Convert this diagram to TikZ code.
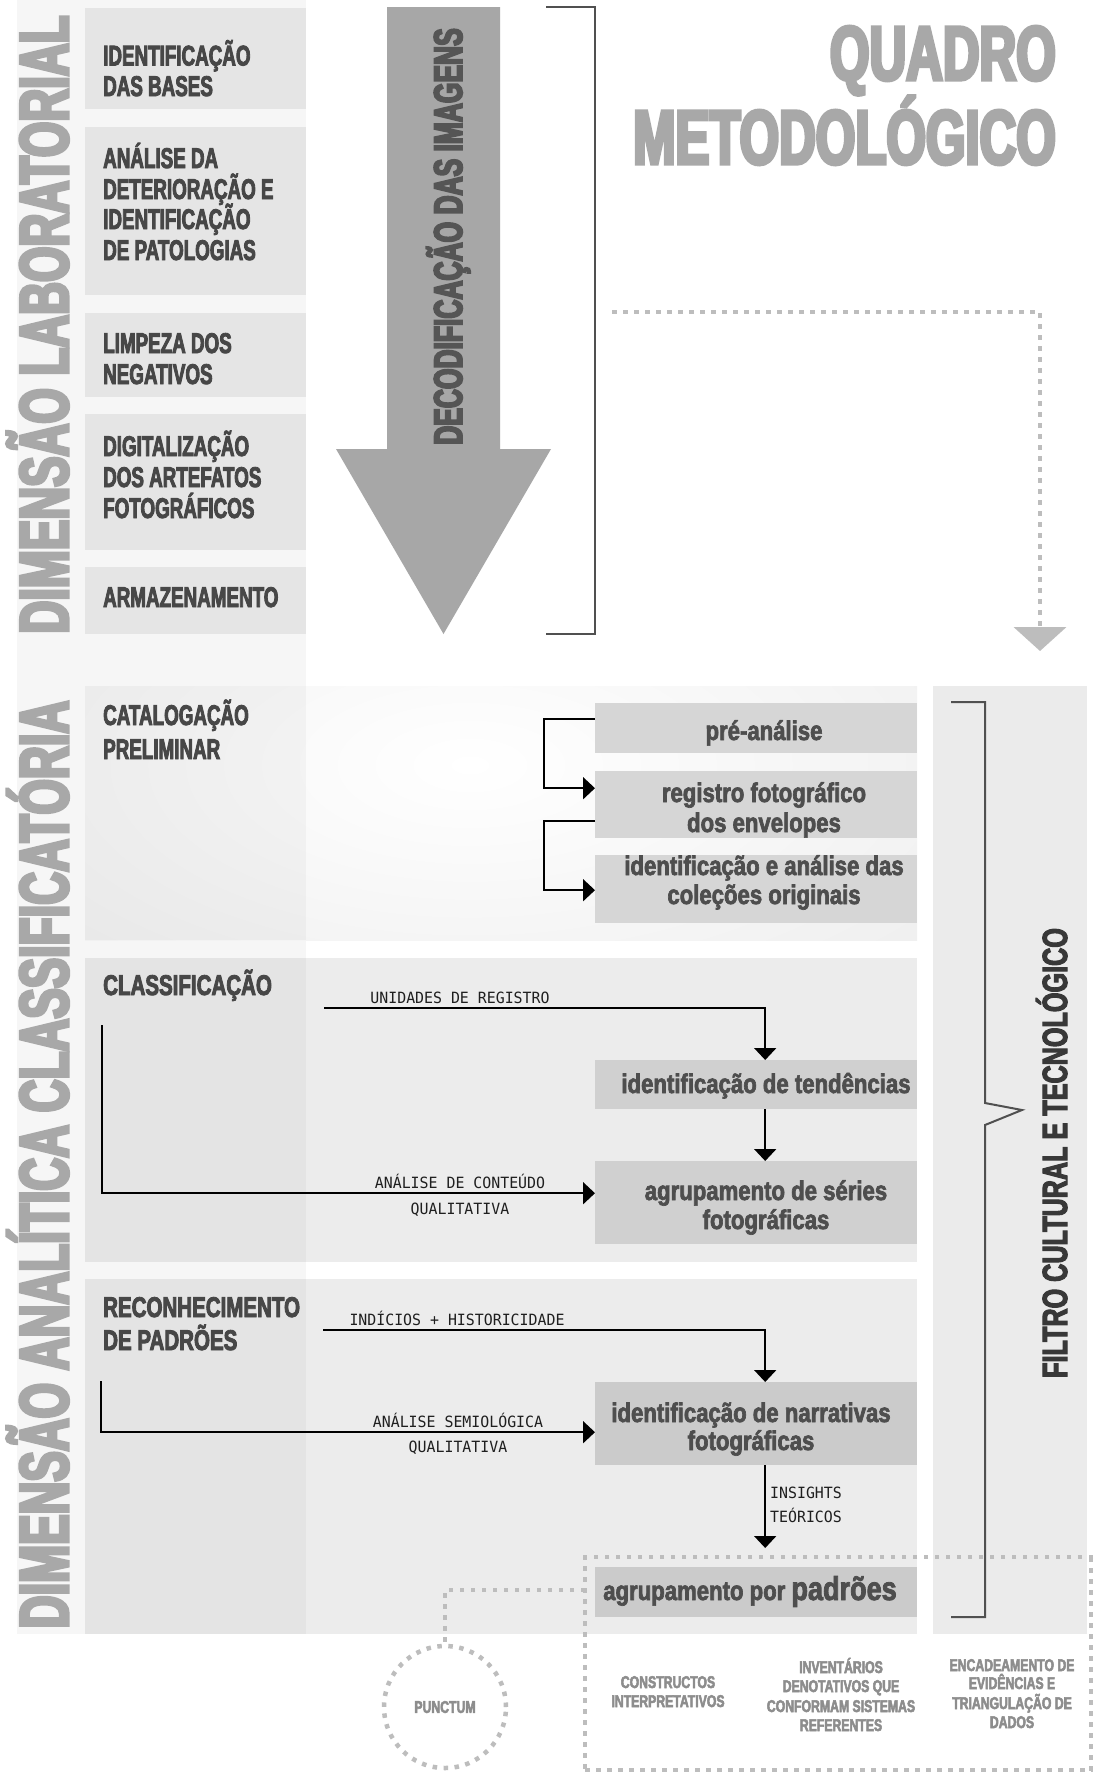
\documentclass[tikz,border=0pt]{standalone}
\usepackage{fontspec}
\setmainfont{Liberation Sans}
\newfontfamily\hvBig{Liberation Sans Bold}[FakeStretch=0.66, FakeBold=4.5]
\newfontfamily\hvA{Liberation Sans Bold}[FakeStretch=0.66, FakeBold=3]
\newfontfamily\hvB{Liberation Sans Bold}[FakeStretch=0.72, FakeBold=3]
\newfontfamily\hvC{Liberation Sans Bold}[FakeStretch=0.82, FakeBold=2.5]
\newfontfamily\monoF{DejaVu Sans Mono}[FakeStretch=0.96]
\usetikzlibrary{arrows.meta}
\definecolor{bandc}{HTML}{F6F6F6}
\definecolor{topc}{HTML}{E5E5E5}
\definecolor{secc}{HTML}{ECECEC}
\definecolor{filc}{HTML}{EBEBEB}
\definecolor{rca}{HTML}{D6D6D6}
\definecolor{rcb}{HTML}{D0D0D0}
\definecolor{rcc}{HTML}{CBCBCB}
\definecolor{bigc}{HTML}{A8A8A8}
\definecolor{arrc}{HTML}{A7A7A7}
\definecolor{decc}{HTML}{555555}
\definecolor{headc}{HTML}{474747}
\definecolor{lowc}{HTML}{4E4E4E}
\definecolor{brkc}{HTML}{505050}
\definecolor{dotc}{HTML}{BDBDBD}
\definecolor{greyc}{HTML}{8D8D8D}
\definecolor{filtc}{HTML}{383838}
\begin{document}
\begin{tikzpicture}[x=1pt,y=-1pt,
  topbox/.style={fill=topc, minimum width=221pt, inner sep=0pt, anchor=north west},
  secbox/.style={fill=secc, minimum width=832pt, inner sep=0pt, anchor=north west},
  rbox/.style={fill=#1, minimum width=322pt, inner sep=0pt, anchor=north west},
  hA/.style={font=\hvA\fontsize{28.5}{31}\selectfont, text=headc, anchor=base west, inner sep=0pt},
  hB/.style={font=\hvB\fontsize{28.5}{31}\selectfont, text=headc, anchor=base west, inner sep=0pt},
  lc/.style={font=\hvC\fontsize{27}{30}\selectfont, text=lowc, anchor=base, inner sep=0pt},
  ml/.style={font=\monoF\fontsize{15.5}{18}\selectfont, text=black!88, anchor=base, inner sep=0pt},
  gl/.style={font=\hvB\fontsize{17}{20}\selectfont, text=greyc, anchor=base, inner sep=0pt},
  conn/.style={draw=black, line width=1.8pt, -{Triangle[length=12pt,width=22pt]}},
  dotl/.style={draw=dotc, line width=4.5pt, dash pattern=on 4.5pt off 6.5pt},
  brk/.style={draw=brkc, line width=2pt},
]
\useasboundingbox (0,0) rectangle (1093,1773);
\fill[white] (0,0) rectangle (1093,1773);
% left band
\fill[bandc] (17,0) rectangle (306,1634);

% upper boxes
\node[topbox, minimum height=101pt] (b1) at (85,8) {};
\node[topbox, minimum height=168pt] (b2) at (85,127) {};
\node[topbox, minimum height=84pt] (b3) at (85,313) {};
\node[topbox, minimum height=136pt] (b4) at (85,414) {};
\node[topbox, minimum height=67pt] (b5) at (85,567) {};

% sections
\node[secbox, minimum height=254pt] (cat) at (85,686) {};
\begin{scope}
  \clip (85,686) rectangle (917,940);
  \shade[inner color=white, outer color=secc] (470,765) ellipse [x radius=720pt, y radius=340pt];
\end{scope}
\node[secbox, minimum height=304pt] (cla) at (85,958) {};
\node[secbox, minimum height=355pt] (rec) at (85,1279) {};
\fill[black, opacity=0.03] (cat.north west) rectangle ([xshift=221pt]cat.south west);
\fill[black, opacity=0.03] (cla.north west) rectangle ([xshift=221pt]cla.south west);
\fill[black, opacity=0.03] (rec.north west) rectangle ([xshift=221pt]rec.south west);

% filter column
\node[fill=filc, minimum width=154pt, minimum height=948pt, inner sep=0pt, anchor=north west] (fil) at (933,686) {};

% right boxes
\node[rbox=rca, minimum height=50pt] (pre) at (595,703) {};
\node[rbox=rca, minimum height=67pt] (reg) at (595,771) {};
\node[rbox=rca, minimum height=68pt] (ide) at (595,855) {};
\node[rbox=rcb, minimum height=49pt] (ten) at (595,1060) {};
\node[rbox=rcb, minimum height=83pt] (ser) at (595,1161) {};
\node[rbox=rcc, minimum height=83pt] (nar) at (595,1382) {};
\node[rbox=rcc, minimum height=50pt] (pad) at (595,1567) {};

% big arrow
\fill[arrc] (387,7) -- (500,7) -- (500,449) -- (551,449) -- (443.5,634) -- (336,449) -- (387,449) -- cycle;
\node[font=\hvBig\fontsize{40}{40}\selectfont, text=decc, rotate=90, anchor=base, inner sep=0pt] (dec) at (462,236.5) {DECODIFICAÇÃO DAS IMAGENS};
% bracket
\draw[brk] (546,7) -- (595,7) -- (595,634) -- (546,634);

% big vertical titles
\node[font=\hvBig\fontsize{69}{69}\selectfont, text=bigc, rotate=90, anchor=base, inner sep=0pt] (dl) at (68,324.5) {DIMENSÃO LABORATORIAL};
\node[font=\hvBig\fontsize{69}{69}\selectfont, text=bigc, rotate=90, anchor=base, inner sep=0pt] (da) at (68,1164.5) {DIMENSÃO ANALÍTICA CLASSIFICATÓRIA};

% main title
\node[font=\hvBig\fontsize{77}{77}\selectfont, text=bigc, anchor=base east, inner sep=0pt] (q1) at (1056,80) {QUADRO};
\node[font=\hvBig\fontsize{77}{77}\selectfont, text=bigc, anchor=base east, inner sep=0pt] (q2) at (1056,164) {METODOLÓGICO};

% upper box texts
\node[hA] (t1a) at (103,65.5) {IDENTIFICAÇÃO};
\node[hA] (t1b) at (103,96) {DAS BASES};
\node[hA] (t2a) at (103,168) {ANÁLISE DA};
\node[hA] (t2b) at (103,199) {DETERIORAÇÃO E};
\node[hA] (t2c) at (103,229) {IDENTIFICAÇÃO};
\node[hA] (t2d) at (103,260) {DE PATOLOGIAS};
\node[hA] (t3a) at (103,353) {LIMPEZA DOS};
\node[hA] (t3b) at (103,384) {NEGATIVOS};
\node[hA] (t4a) at (103,456) {DIGITALIZAÇÃO};
\node[hA] (t4b) at (103,487) {DOS ARTEFATOS};
\node[hA] (t4c) at (103,518) {FOTOGRÁFICOS};
\node[hA] (t5a) at (103,607) {ARMAZENAMENTO};

% section headings
\node[hA] (s1a) at (103,725) {CATALOGAÇÃO};
\node[hA] (s1b) at (103,759) {PRELIMINAR};
\node[hB] (s2a) at (103,995) {CLASSIFICAÇÃO};
\node[hB] (s3a) at (103,1317) {RECONHECIMENTO};
\node[hB] (s3b) at (103,1350) {DE PADRÕES};

% right box texts
\node[lc] (xpre) at (764,740) {pré-análise};
\node[lc] (xreg1) at (764,802) {registro fotográfico};
\node[lc] (xreg2) at (764,832) {dos envelopes};
\node[lc] (xide1) at (764,875) {identificação e análise das};
\node[lc] (xide2) at (764,904) {coleções originais};
\node[lc] (xten) at (766,1093) {identificação de tendências};
\node[lc] (xser1) at (766,1200) {agrupamento de séries};
\node[lc] (xser2) at (766,1229) {fotográficas};
\node[lc] (xnar1) at (751,1422) {identificação de narrativas};
\node[lc] (xnar2) at (751,1450) {fotográficas};
\node[lc] (xpad) at (750,1600) {agrupamento por {\fontsize{33}{33}\selectfont padrões}};

% connectors
\coordinate (u0) at (324,1008);
\coordinate (c0) at (102,1025);
\coordinate (i0) at (323,1330);
\coordinate (s0) at (101,1381);
\draw[conn] ([yshift=9pt]pre.west) -- ++(-51,0) |- ([yshift=16.5pt]reg.west);
\draw[conn] ([yshift=-16.5pt]reg.west) -- ++(-51,0) |- ([yshift=-1pt]ide.west);
\draw[conn] (u0) -| ([xshift=9pt]ten.north);
\draw[conn] ([xshift=9pt]ten.south) -- ([xshift=9pt]ser.north);
\draw[conn] (c0) |- ([yshift=9.5pt]ser.west);
\draw[conn] (i0) -| ([xshift=9pt]nar.north);
\draw[conn] (s0) |- ([yshift=-8.5pt]nar.west);
\draw[conn] ([xshift=9pt]nar.south) -- ([xshift=9pt,yshift=19pt]pad.north);

% connector labels
\node[ml] (l1) at (460,1003) {UNIDADES DE REGISTRO};
\node[ml] (l2a) at (460,1188) {ANÁLISE DE CONTEÚDO};
\node[ml] (l2b) at (460,1214) {QUALITATIVA};
\node[ml] (l3) at (457,1325) {INDÍCIOS + HISTORICIDADE};
\node[ml] (l4a) at (458,1427) {ANÁLISE SEMIOLÓGICA};
\node[ml] (l4b) at (458,1452) {QUALITATIVA};
\node[ml, anchor=base west] (l5a) at (770,1498) {INSIGHTS};
\node[ml, anchor=base west] (l5b) at (770,1522) {TEÓRICOS};

% filter brace and text
\draw[brk] (951,702) -- (985,702) -- (985,1103) -- (1022,1110) -- (985,1125) -- (985,1617) -- (951,1617);
\node[font=\hvB\fontsize{35}{35}\selectfont, text=filtc, rotate=90, anchor=base, inner sep=0pt] (filt) at (1067,1153) {FILTRO CULTURAL E TECNOLÓGICO};

% dotted arrow to filter
\coordinate (d0) at (612,312);
\coordinate (d1) at (1040,651);
\draw[dotl, -{Triangle[length=24pt,width=52pt]}] (d0) -| (d1);

% lower dotted frame
\draw[dotl] (1093,1557) -- (585,1557) -- (585,1773);
\draw[dotl] (585,1770) -- (1093,1770);
\draw[dotl] (1091,1557) -- (1091,1773);

% punctum
\node[circle, dotl, minimum size=122pt, inner sep=0pt, font=\hvB\fontsize{17}{20}\selectfont, text=greyc] (punct) at (445,1707) {PUNCTUM};
\coordinate (p0) at (585,1590);
\draw[dotl] (p0) -| (punct.north);

% bottom grey labels
\node[gl] (g1a) at (668,1688) {CONSTRUCTOS};
\node[gl] (g1b) at (668,1707) {INTERPRETATIVOS};
\node[gl] (g2a) at (841,1673) {INVENTÁRIOS};
\node[gl] (g2b) at (841,1692) {DENOTATIVOS QUE};
\node[gl] (g2c) at (841,1712) {CONFORMAM SISTEMAS};
\node[gl] (g2d) at (841,1731) {REFERENTES};
\node[gl] (g3a) at (1012,1671) {ENCADEAMENTO DE};
\node[gl] (g3b) at (1012,1689) {EVIDÊNCIAS E};
\node[gl] (g3c) at (1012,1709) {TRIANGULAÇÃO DE};
\node[gl] (g3d) at (1012,1728) {DADOS};
\end{tikzpicture}
\end{document}
